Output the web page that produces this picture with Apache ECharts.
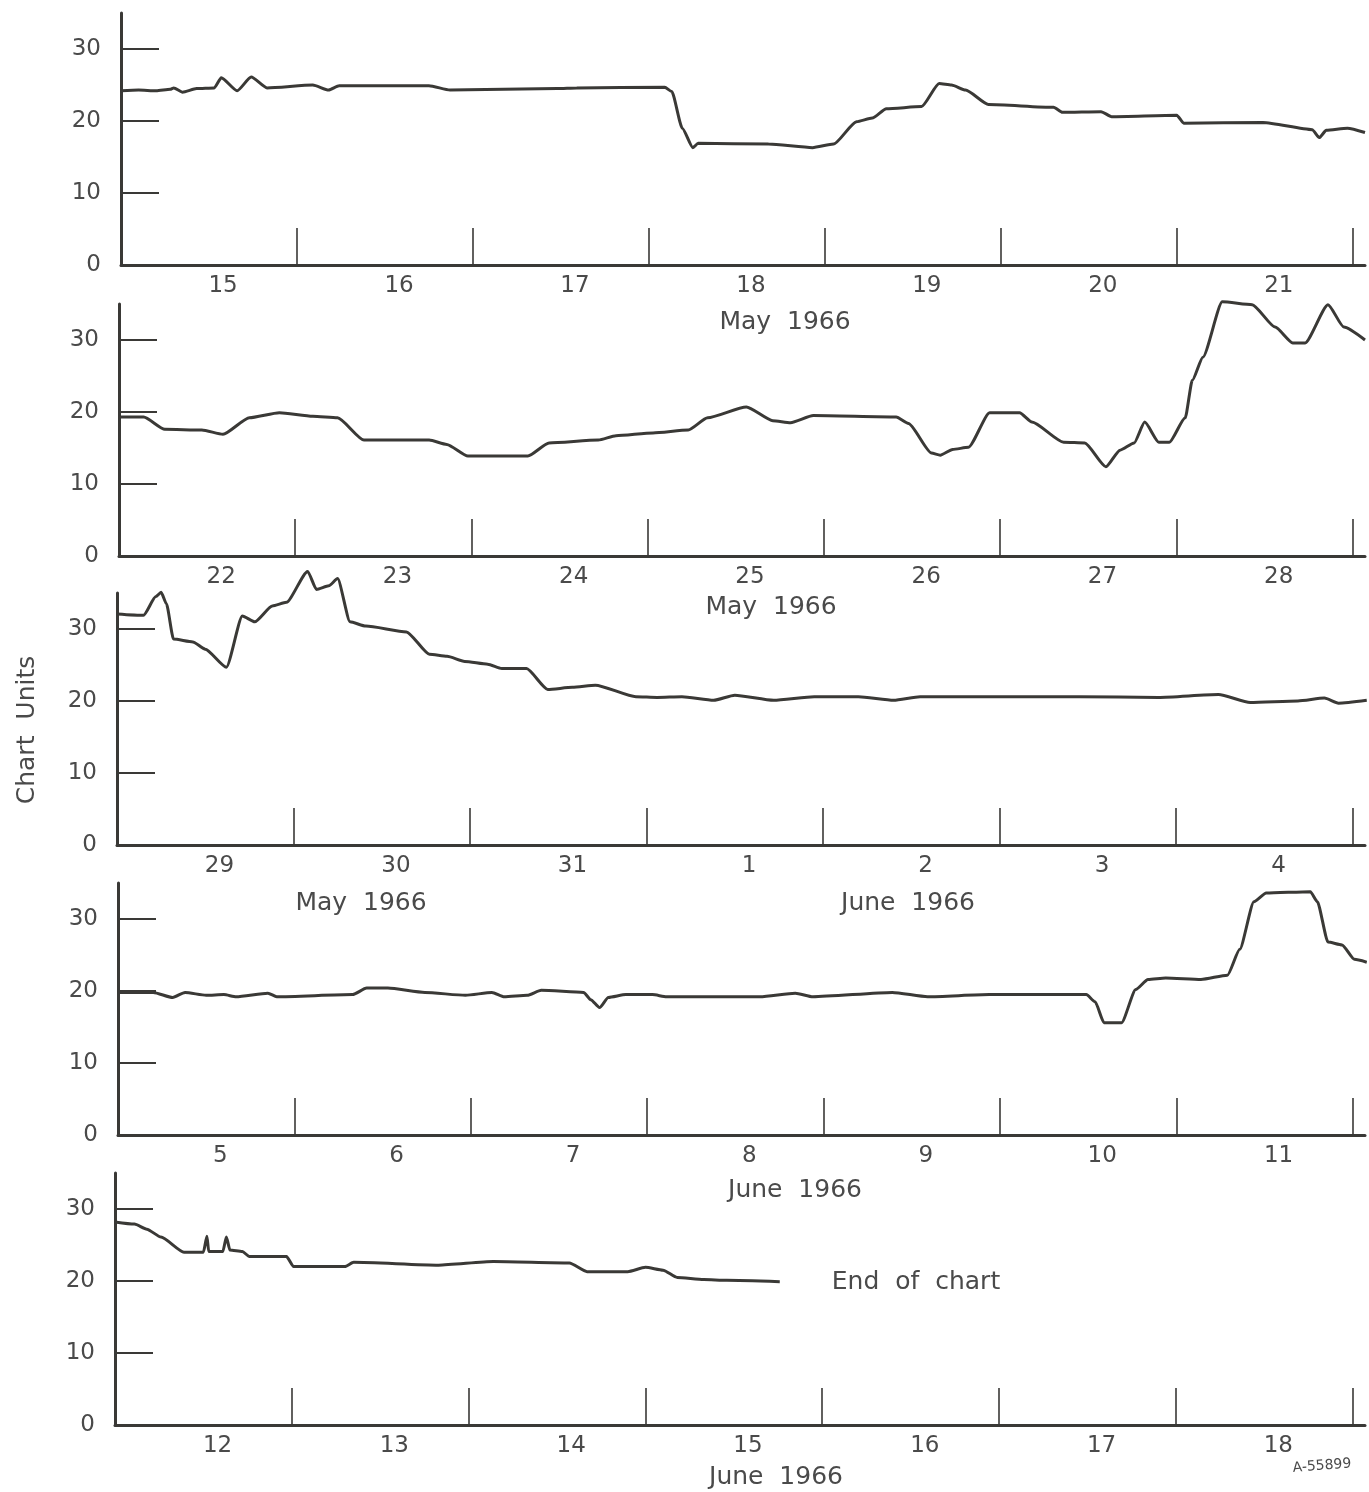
<!DOCTYPE html>
<html lang="en">
<head>
    <meta charset="UTF-8">
    <title>Chart Units May-June 1966</title>
    <script src="https://cdn.jsdelivr.net/npm/echarts@6/dist/echarts.min.js"></script>
    <style>
        html, body { margin: 0; padding: 0; background: #fff; }
        #chart { width: 1369px; height: 1492px; }
    </style>
</head>
<body>
    <div id="chart"></div>
    <script type="text/javascript">
        // time in days from the left edge of each strip, value in chart units
        var week1T = [0, 0.10, 0.20, 0.28, 0.30, 0.35, 0.43, 0.53, 0.57, 0.66, 0.74, 0.83, 1.09, 1.18, 1.24, 1.75, 1.87, 2.48, 2.59, 3.09, 3.13, 3.19, 3.25, 3.28, 3.68, 3.93, 4.05, 4.18, 4.27, 4.35, 4.55, 4.65, 4.72, 4.80, 4.93, 5.30, 5.35, 5.57, 5.63, 6.00, 6.04, 6.49, 6.77, 6.81, 6.85, 6.97, 7.07];
        var week1V = [24.2, 24.3, 24.2, 24.4, 24.6, 24.0, 24.5, 24.6, 26.0, 24.2, 26.1, 24.6, 25.0, 24.3, 24.9, 24.9, 24.3, 24.5, 24.6, 24.7, 24.1, 19.0, 16.3, 16.9, 16.8, 16.3, 16.8, 19.9, 20.4, 21.7, 22.0, 25.2, 25.0, 24.3, 22.3, 21.9, 21.2, 21.3, 20.6, 20.8, 19.7, 19.8, 18.8, 17.7, 18.7, 19.0, 18.4];

        var week2T = [0, 0.14, 0.26, 0.47, 0.59, 0.74, 0.91, 1.10, 1.24, 1.39, 1.76, 1.86, 1.98, 2.32, 2.44, 2.72, 2.82, 3.03, 3.23, 3.34, 3.56, 3.71, 3.81, 3.94, 4.41, 4.48, 4.61, 4.66, 4.73, 4.82, 4.94, 5.11, 5.18, 5.36, 5.48, 5.60, 5.68, 5.76, 5.82, 5.90, 5.96, 6.05, 6.09, 6.15, 6.26, 6.43, 6.56, 6.66, 6.73, 6.86, 6.95, 7.07];
        var week2V = [19.3, 19.3, 17.6, 17.5, 16.9, 19.2, 19.9, 19.4, 19.2, 16.1, 16.1, 15.5, 13.9, 13.9, 15.7, 16.1, 16.7, 17.1, 17.5, 19.2, 20.7, 18.8, 18.5, 19.5, 19.3, 18.4, 14.3, 14.0, 14.8, 15.1, 19.9, 19.9, 18.6, 15.8, 15.7, 12.4, 14.7, 15.7, 18.6, 15.8, 15.8, 19.2, 24.4, 27.6, 35.3, 34.9, 31.8, 29.6, 29.6, 34.9, 31.8, 30.0];

        var week3T = [0, 0.15, 0.22, 0.25, 0.28, 0.32, 0.43, 0.50, 0.62, 0.71, 0.78, 0.88, 0.96, 1.08, 1.13, 1.20, 1.25, 1.32, 1.41, 1.64, 1.77, 1.87, 1.97, 2.10, 2.18, 2.32, 2.44, 2.58, 2.71, 2.94, 3.06, 3.20, 3.38, 3.50, 3.72, 3.95, 4.20, 4.40, 4.55, 5.45, 5.90, 6.24, 6.42, 6.69, 6.84, 6.92, 7.08];
        var week3V = [32.1, 31.9, 34.5, 35.1, 33.5, 28.6, 28.2, 27.2, 24.7, 31.8, 31.0, 33.2, 33.7, 38.0, 35.5, 36.0, 37.0, 31.0, 30.4, 29.6, 26.5, 26.2, 25.5, 25.1, 24.5, 24.5, 21.6, 21.9, 22.2, 20.6, 20.5, 20.6, 20.1, 20.8, 20.1, 20.6, 20.6, 20.1, 20.6, 20.6, 20.5, 20.9, 19.8, 20.0, 20.4, 19.7, 20.1];

        var week4T = [0, 0.20, 0.31, 0.38, 0.50, 0.60, 0.67, 0.85, 0.90, 1.33, 1.41, 1.53, 1.74, 1.97, 2.12, 2.19, 2.32, 2.40, 2.64, 2.68, 2.73, 2.78, 2.88, 3.03, 3.11, 3.42, 3.64, 3.84, 3.94, 4.39, 4.59, 4.94, 5.49, 5.54, 5.59, 5.69, 5.77, 5.84, 5.94, 6.14, 6.29, 6.36, 6.44, 6.51, 6.76, 6.80, 6.86, 6.94, 7.01, 7.08];
        var week4V = [19.8, 19.8, 19.1, 19.8, 19.4, 19.5, 19.2, 19.7, 19.2, 19.5, 20.4, 20.4, 19.8, 19.4, 19.8, 19.2, 19.4, 20.1, 19.8, 18.8, 17.7, 19.1, 19.5, 19.5, 19.2, 19.2, 19.2, 19.7, 19.2, 19.8, 19.2, 19.5, 19.5, 18.5, 15.6, 15.6, 20.2, 21.6, 21.8, 21.6, 22.2, 25.8, 32.4, 33.6, 33.8, 32.4, 26.8, 26.4, 24.4, 24.0];

        var week5T = [0, 0.11, 0.18, 0.26, 0.39, 0.50, 0.52, 0.53, 0.61, 0.63, 0.65, 0.72, 0.76, 0.97, 1.01, 1.30, 1.35, 1.83, 2.14, 2.57, 2.67, 2.90, 3.00, 3.10, 3.18, 3.33, 3.46, 3.76];
        var week5V = [28.2, 27.9, 27.2, 26.1, 24.0, 24.0, 26.2, 24.1, 24.1, 26.1, 24.3, 24.1, 23.4, 23.4, 22.0, 22.0, 22.6, 22.2, 22.7, 22.5, 21.3, 21.3, 21.9, 21.5, 20.5, 20.2, 20.1, 19.9];

        // day labels under each strip
        var week1Days = ['15', '16', '17', '18', '19', '20', '21'];
        var week2Days = ['22', '23', '24', '25', '26', '27', '28'];
        var week3Days = ['29', '30', '31', '1', '2', '3', '4'];
        var week4Days = ['5', '6', '7', '8', '9', '10', '11'];
        var week5Days = ['12', '13', '14', '15', '16', '17', '18'];

        var yTicks = [0, 10, 20, 30];
        var dayBreaks = [1, 2, 3, 4, 5, 6, 7];
        var labelPos = [0.58, 1.58, 2.58, 3.58, 4.58, 5.58, 6.58];

        var weeks = [
            { t: week1T, v: week1V, days: week1Days },
            { t: week2T, v: week2V, days: week2Days },
            { t: week3T, v: week3V, days: week3Days },
            { t: week4T, v: week4V, days: week4Days },
            { t: week5T, v: week5V, days: week5Days }
        ];

        // layout of the strips (pixel position of zero line, left axis)
        var zeroY = [265, 556, 845, 1135, 1425];
        var leftX = [121, 119, 117, 118, 115];
        var stripH = 252;

        var ink = '#3a3936';
        var textInk = '#4a4a4a';
        var font = 'DejaVu Sans';

        var grids = [], xAxes = [], yAxes = [], series = [];

        weeks.forEach(function (w, i) {
            grids.push({
                left: leftX[i],
                right: 4,
                top: zeroY[i] - stripH,
                height: stripH
            });
            xAxes.push({
                type: 'value',
                gridIndex: i,
                min: 0,
                max: 7.07,
                splitLine: { show: false },
                axisLine: { show: true, lineStyle: { color: ink, width: 3 } },
                axisTick: {
                    show: true,
                    inside: true,
                    length: 37,
                    customValues: dayBreaks,
                    lineStyle: { color: ink, width: 1.6 }
                },
                axisLabel: {
                    show: true,
                    customValues: labelPos,
                    margin: 10,
                    color: textInk,
                    fontFamily: font,
                    fontSize: 23,
                    formatter: function (val) {
                        return w.days[Math.floor(val)];
                    }
                }
            });
            yAxes.push({
                type: 'value',
                gridIndex: i,
                min: 0,
                max: 35,
                splitLine: { show: false },
                axisLine: { show: true, lineStyle: { color: ink, width: 3 } },
                axisTick: {
                    show: true,
                    inside: true,
                    length: 38,
                    customValues: yTicks,
                    lineStyle: { color: ink, width: 1.8 }
                },
                axisLabel: {
                    show: true,
                    customValues: yTicks,
                    margin: 20,
                    color: textInk,
                    fontFamily: font,
                    fontSize: 23
                }
            });
            var pts = w.t.map(function (t, k) { return [t, w.v[k]]; });
            series.push({
                type: 'line',
                xAxisIndex: i,
                yAxisIndex: i,
                data: pts,
                showSymbol: false,
                clip: false,
                smooth: 0.2,
                smoothMonotone: 'x',
                lineStyle: { color: ink, width: 3 },
                silent: true
            });
        });

        function label(text, x, y, size, rot) {
            return {
                type: 'text',
                x: x,
                y: y,
                rotation: rot || 0,
                style: {
                    text: text,
                    fill: textInk,
                    font: size + 'px "' + font + '"',
                    textAlign: 'center',
                    textVerticalAlign: 'middle'
                }
            };
        }

        var option = {
            backgroundColor: '#ffffff',
            animation: false,
            grid: grids,
            xAxis: xAxes,
            yAxis: yAxes,
            series: series,
            graphic: [
                label('May  1966', 785, 322, 25),
                label('May  1966', 771, 607, 25),
                label('May  1966', 361, 903, 25),
                label('June  1966', 908, 903, 25),
                label('June  1966', 795, 1190, 25),
                label('June  1966', 776, 1477, 25),
                label('End  of  chart', 916, 1282, 25),
                label('Chart  Units', 27, 730, 25, Math.PI / 2),
                label('A-55899', 1322, 1466, 14, 0.08)
            ]
        };

        var myChart = echarts.init(document.getElementById('chart'));
        myChart.setOption(option);
    </script>
</body>
</html>
